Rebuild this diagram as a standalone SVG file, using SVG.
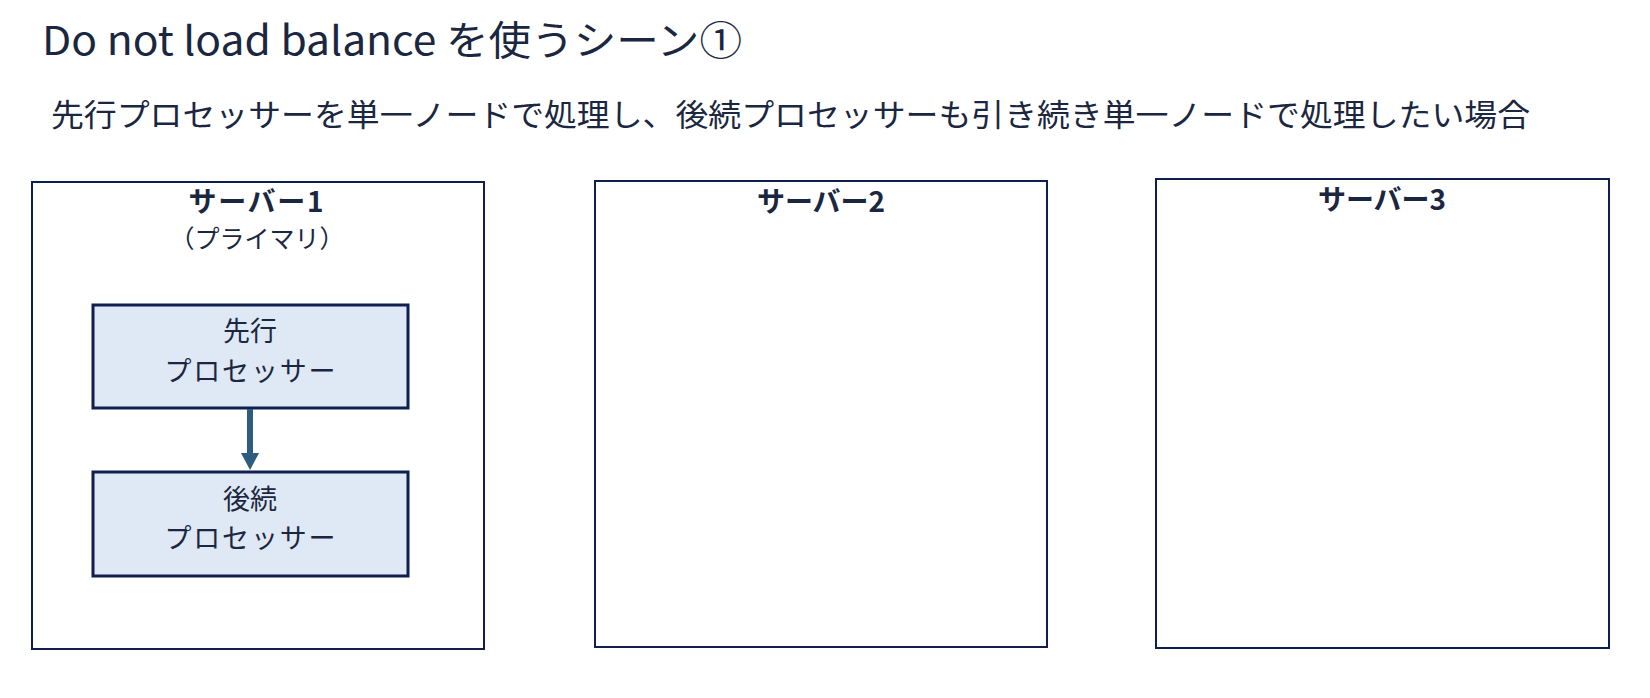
<svg xmlns="http://www.w3.org/2000/svg" width="1650" height="698" viewBox="0 0 1650 698">
<style>
text{font-family:"Noto Sans CJK JP","Noto Sans",sans-serif;fill:#1b2740}
.server{fill:#ffffff;stroke:#0f1f50;stroke-width:2}
.proc{fill:#dfe8f5;stroke:#0f1f50;stroke-width:3}
.lbl{font-size:28px;font-weight:bold;text-anchor:middle}
.sub{font-size:25px;font-weight:normal;text-anchor:middle}
.ptxt{font-size:27px;text-anchor:middle}
</style>
<rect width="1650" height="698" fill="#ffffff"/>
<text x="42" y="55" font-size="40" textLength="700" lengthAdjust="spacingAndGlyphs">Do not load balance を使うシーン①</text>
<text x="51" y="126" font-size="31" textLength="1479" lengthAdjust="spacingAndGlyphs">先行プロセッサーを単一ノードで処理し、後続プロセッサーも引き続き単一ノードで処理したい場合</text>
<g id="server1">
<rect class="server" x="32" y="182" width="452" height="467"/>
<text class="lbl" x="256" y="212" textLength="135" lengthAdjust="spacing">サーバー1</text>
<text class="sub" x="257" y="248">（プライマリ）</text>
</g>
<g id="server2">
<rect class="server" x="595" y="181" width="452" height="466"/>
<text class="lbl" x="821" y="212">サーバー2</text>
</g>
<g id="server3">
<rect class="server" x="1156" y="179" width="453" height="469"/>
<text class="lbl" x="1382" y="210">サーバー3</text>
</g>
<g id="proc1">
<rect class="proc" x="93" y="305" width="315" height="103"/>
<text class="ptxt" x="250" y="341">先行</text>
<text class="ptxt" x="250" y="381" textLength="171" lengthAdjust="spacing">プロセッサー</text>
</g>
<g id="proc2">
<rect class="proc" x="93" y="472" width="315" height="104"/>
<text class="ptxt" x="250" y="509">後続</text>
<text class="ptxt" x="250" y="548" textLength="171" lengthAdjust="spacing">プロセッサー</text>
</g>
<g id="connectors">
<line x1="250" y1="409" x2="250" y2="455" stroke="#2e5c7e" stroke-width="6"/>
<path d="M241,453 L259,453 L250,470 Z" fill="#2e5c7e"/>
</g>
</svg>
